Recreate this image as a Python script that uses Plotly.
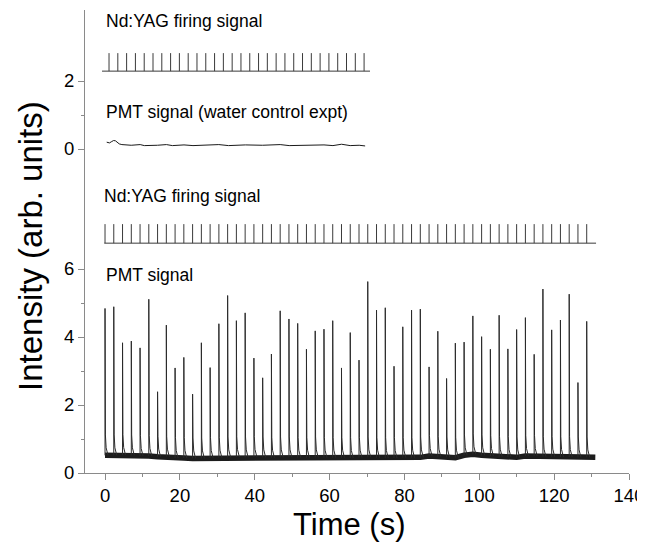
import plotly.graph_objects as go

# ---------------- data ----------------
# PMT peak times (s) and peak heights (arb. units), bottom panel
peak_times = [0.00, 2.34, 4.68, 7.02, 9.36, 11.70, 14.04, 16.38, 18.72, 21.06,
              23.40, 25.74, 28.08, 30.42, 32.76, 35.10, 37.44, 39.78, 42.12, 44.46,
              46.80, 49.14, 51.48, 53.82, 56.16, 58.50, 60.84, 63.18, 65.52, 67.86,
              70.20, 72.54, 74.88, 77.22, 79.56, 81.90, 84.24, 86.58, 88.92, 91.26,
              93.60, 95.94, 98.28, 100.62, 102.96, 105.30, 107.64, 109.98, 112.32, 114.66,
              117.00, 119.34, 121.68, 124.02, 126.36, 128.70]
peak_heights = [4.84, 4.89, 3.83, 3.88, 3.68, 5.11, 2.39, 4.35, 3.09, 3.40,
                2.32, 3.83, 3.10, 4.39, 5.22, 4.48, 4.71, 3.38, 2.80, 3.50,
                4.77, 4.53, 4.40, 3.64, 4.18, 4.23, 4.48, 3.09, 4.13, 3.32,
                5.63, 4.79, 4.86, 3.14, 4.30, 4.79, 4.82, 3.12, 4.17, 2.78,
                3.82, 3.85, 4.62, 4.01, 3.64, 4.64, 3.65, 4.22, 4.57, 3.49,
                5.41, 4.21, 4.50, 5.26, 2.66, 4.46]
# baseline level of the PMT trace between peaks
baseline_levels = [0.52, 0.52, 0.53, 0.52, 0.50, 0.50, 0.48, 0.48, 0.44, 0.44,
                   0.43, 0.43, 0.44, 0.45, 0.46, 0.47, 0.46, 0.47, 0.46, 0.45,
                   0.46, 0.46, 0.45, 0.45, 0.46, 0.45, 0.45, 0.45, 0.44, 0.45,
                   0.46, 0.45, 0.44, 0.44, 0.45, 0.45, 0.46, 0.50, 0.48, 0.46,
                   0.45, 0.52, 0.55, 0.52, 0.50, 0.48, 0.47, 0.46, 0.50, 0.50,
                   0.48, 0.48, 0.47, 0.47, 0.46, 0.46]
trace_end = 131.0
# decay tail after each spike: (time offset s, level above baseline)
tail_offsets = [0.10, 0.30, 0.80]
tail_levels = [0.60, 0.22, 0.0]

# Nd:YAG firing pulses
firing_level_bottom = 6.76
firing_top_bottom = 7.32
firing_start_bottom = -0.2
firing_end_bottom = 131.2

firing_times_top = [1.07, 3.42, 5.77, 8.12, 10.47, 12.82, 15.17, 17.52, 19.87, 22.22,
                    24.57, 26.92, 29.27, 31.62, 33.97, 36.32, 38.67, 41.02, 43.37, 45.72,
                    48.07, 50.42, 52.77, 55.12, 57.47, 59.82, 62.17, 64.52, 66.87, 69.22]
firing_level_top = 2.29
firing_top_top = 2.82
firing_start_top = -0.8
firing_end_top = 70.8

# PMT signal, water control experiment (top panel)
water_t = [0.45, 0.8, 1.2, 1.8, 2.3, 2.8, 3.3, 3.8, 4.5, 5.5, 7.0, 9.4, 10.5, 14.0,
           16.4, 18.0, 21.1, 23.5, 26.0, 30.4, 33.0, 37.5, 42.1, 46.8, 49.2, 53.8,
           58.5, 60.9, 63.2, 65.5, 67.9, 69.5]
water_v = [0.20, 0.19, 0.18, 0.22, 0.25, 0.24, 0.18, 0.15, 0.13, 0.12, 0.11, 0.13,
           0.10, 0.11, 0.13, 0.10, 0.12, 0.10, 0.11, 0.13, 0.10, 0.12, 0.11, 0.13,
           0.10, 0.11, 0.12, 0.10, 0.14, 0.10, 0.11, 0.09]

labels = ["Nd:YAG firing signal", "PMT signal (water control expt)",
          "Nd:YAG firing signal", "PMT signal"]

# ---------------- build traces ----------------
fig = go.Figure()

# noisy baseline band of the PMT trace
band_x = list(peak_times) + [trace_end]
band_y = list(baseline_levels) + [baseline_levels[-1]]
fig.add_trace(go.Scatter(x=band_x, y=band_y, mode="lines",
                         line=dict(color="#1c1c1c", width=5.5),
                         hoverinfo="skip", showlegend=False))

# spikes
sx, sy = [], []
for t, h, b in zip(peak_times, peak_heights, baseline_levels):
    sx += [t, t, t + 0.04]
    sy += [b, h, h * 0.45]
    for off, lev in zip(tail_offsets, tail_levels):
        sx.append(t + off)
        sy.append(b + lev)
    sx.append(None)
    sy.append(None)
fig.add_trace(go.Scatter(x=sx, y=sy, mode="lines",
                         line=dict(color="#2a2a2a", width=1),
                         hoverinfo="skip", showlegend=False))

# bottom firing signal
fx = [firing_start_bottom, firing_end_bottom, None]
fy = [firing_level_bottom, firing_level_bottom, None]
for t in peak_times:
    fx += [t, t, None]
    fy += [firing_level_bottom, firing_top_bottom, None]
fig.add_trace(go.Scatter(x=fx, y=fy, mode="lines",
                         line=dict(color="#3a3a3a", width=1),
                         hoverinfo="skip", showlegend=False))

# top firing signal
gx = [firing_start_top, firing_end_top, None]
gy = [firing_level_top, firing_level_top, None]
for t in firing_times_top:
    gx += [t, t, None]
    gy += [firing_level_top, firing_top_top, None]
fig.add_trace(go.Scatter(x=gx, y=gy, mode="lines", yaxis="y2",
                         line=dict(color="#3a3a3a", width=1),
                         hoverinfo="skip", showlegend=False))

# water control trace
fig.add_trace(go.Scatter(x=water_t, y=water_v, mode="lines", yaxis="y2",
                         line=dict(color="#1a1a1a", width=1),
                         hoverinfo="skip", showlegend=False))

# ---------------- layout ----------------
# page body adds an 8px offset; figure is sized so the plot area lands at
# x 85..629, y 10..473 in the 645x542 window
FONT = "Liberation Sans, Arial, Helvetica, sans-serif"
axis_col = "#8a8a8a"
split = (473 - 180) / 463.0
TICK = 18.5

fig.update_layout(
    width=637, height=534, autosize=False,
    margin=dict(l=77, r=16, t=2, b=69, autoexpand=False),
    paper_bgcolor="white", plot_bgcolor="white",
    font=dict(family=FONT, color="black", size=18),
    showlegend=False,
    xaxis=dict(range=[-5.35, 140], showline=True, linecolor=axis_col, linewidth=1,
               ticks="outside", ticklen=6, tickcolor=axis_col,
               tickvals=[0, 20, 40, 60, 80, 100, 120, 140],
               minor=dict(tickvals=[10, 30, 50, 70, 90, 110, 130], ticklen=3,
                          tickcolor=axis_col, ticks="outside"),
               showgrid=False, zeroline=False, anchor="y", automargin=False,
               ticklabeloverflow="allow", tickfont=dict(size=TICK)),
    yaxis=dict(domain=[0, split], range=[0, (473 - 180) / 34.0],
               showline=True, linecolor=axis_col, linewidth=1,
               ticks="outside", ticklen=6, tickcolor=axis_col,
               tickvals=[0, 2, 4, 6], automargin=False,
               minor=dict(tickvals=[1, 3, 5], ticklen=3, tickcolor=axis_col,
                          ticks="outside"),
               showgrid=False, zeroline=False, tickfont=dict(size=TICK)),
    yaxis2=dict(domain=[split, 1], range=[-(180 - 149) / 34.0, (149 - 10) / 34.0],
                anchor="x", showline=True, linecolor=axis_col, linewidth=1,
                ticks="outside", ticklen=6, tickcolor=axis_col,
                tickvals=[0, 2], automargin=False,
                minor=dict(tickvals=[1], ticklen=3, tickcolor=axis_col,
                           ticks="outside"),
                showgrid=False, zeroline=False, tickfont=dict(size=TICK)),
)

ann_font = dict(family=FONT, size=17.5, color="black")
fig.add_annotation(x=-0.4, y=3.76, xref="x", yref="y2", text=labels[0],
                   showarrow=False, xanchor="left", yanchor="middle", font=ann_font)
fig.add_annotation(x=-0.2, y=1.09, xref="x", yref="y2", text=labels[1],
                   showarrow=False, xanchor="left", yanchor="middle", font=ann_font)
fig.add_annotation(x=-0.8, y=8.15, xref="x", yref="y", text=labels[2],
                   showarrow=False, xanchor="left", yanchor="middle", font=ann_font)
fig.add_annotation(x=-0.3, y=5.82, xref="x", yref="y", text=labels[3],
                   showarrow=False, xanchor="left", yanchor="middle", font=ann_font)

# axis titles
fig.add_annotation(x=(30 - 85) / 544.0, y=(473 - 246) / 463.0, xref="paper", yref="paper",
                   text="Intensity (arb. units)", textangle=-90, showarrow=False,
                   xanchor="center", yanchor="middle",
                   font=dict(family=FONT, size=33, color="black"))
fig.add_annotation(x=(349 - 85) / 544.0, y=(473 - 524) / 463.0, xref="paper", yref="paper",
                   text="Time (s)", showarrow=False, xanchor="center", yanchor="middle",
                   font=dict(family=FONT, size=31, color="black"))

fig.write_html("out.html")
